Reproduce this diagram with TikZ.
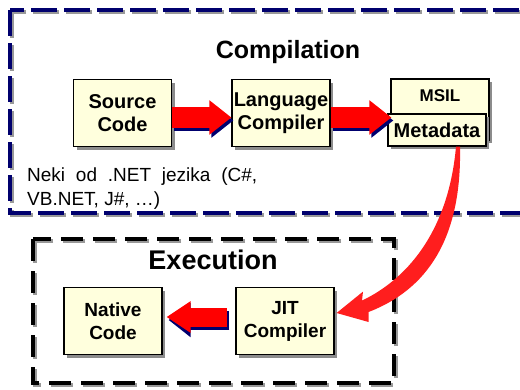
\documentclass[tikz,border=0pt]{standalone}
\usepackage{fontspec}
\setmainfont{Liberation Sans}
\usetikzlibrary{arrows.meta,shadows,calc,positioning}
\definecolor{netnavy}{RGB}{0,0,110}
\definecolor{boxyellow}{RGB}{255,255,221}
\definecolor{jitred}{RGB}{255,30,30}
\tikzset{
  stagebox/.style={draw=black, line width=1.2pt, fill=boxyellow,
    minimum width=98pt, minimum height=67pt, inner sep=0pt, align=center,
    font=\fontsize{20}{23}\selectfont\bfseries,
    drop shadow={shadow xshift=3pt, shadow yshift=-3pt, fill=black!45, opacity=1}},
  titletext/.style={inner sep=0pt, font=\fontsize{#1}{#1}\selectfont\bfseries},
  fatarrow/.style={draw=red, line width=#1, -{Triangle[length=22pt,width=33pt]}},
  fatshadow/.style={fatarrow=#1, draw=netnavy, transform canvas={shift={(2pt,-3pt)}}},
  dashframe/.style={line width=4pt, dash pattern=on 26pt off 7pt},
}
\begin{document}
\begin{tikzpicture}[x=1pt, y=-1pt]
  \useasboundingbox (0, 0) rectangle (520, 389) ;
  \clip (0, 0) rectangle (520, 389) ;
  % frames
  \draw[dashframe, black!40] (12, 12) rectangle (542, 215) ;
  \draw[dashframe, netnavy] (10, 10) rectangle (540, 213) ;
  \draw[dashframe, black!40, dash pattern=on 22pt off 10pt] (35, 241) rectangle (396, 385) ;
  \draw[dashframe, black, dash pattern=on 22pt off 10pt] (33, 239) rectangle (394, 383) ;
  % titles
  \node[titletext=25] (comptitle) at (288, 52) {Compilation} ;
  \node[titletext=27] (exectitle) at (213, 260) {Execution} ;
  % compilation stage
  \node[stagebox] (src) at (122.5, 113) {Source\\Code} ;
  \node[stagebox] (lang) at (281, 113) {Language\\Compiler} ;
  \node[stagebox, minimum height=61pt, text depth=28pt,
        font=\fontsize{17}{20}\selectfont\bfseries] (msil) at (440, 109.5) {MSIL} ;
  \node[stagebox, minimum height=32pt] (meta) at (437, 130) {Metadata} ;
  \node[anchor=base west, inner sep=0pt, align=left,
        font=\fontsize{19}{23.5}\selectfont] (netlangs) at (27, 205)
        {\makebox[230pt][s]{Neki od .NET jezika (C\#,}\\VB.NET, J\#, …)} ;
  % execution stage
  \node[stagebox, font=\fontsize{19}{23}\selectfont\bfseries] (native) at (113, 321) {Native\\Code} ;
  \node[stagebox, font=\fontsize{19}{23}\selectfont\bfseries] (jit) at (285, 321) {JIT\\Compiler} ;
  % fat arrows
  \coordinate (msilin) at ($(lang.east -| meta.west)+(4, 4.5)$) ;
  \draw[fatshadow=21pt] ([yshift=-4.5pt]src.east) -- ([yshift=-4.5pt]lang.west) ;
  \draw[fatarrow=21pt] ([yshift=-4.5pt]src.east) -- ([yshift=-4.5pt]lang.west) ;
  \draw[fatshadow=21pt] ([yshift=-4.5pt]lang.east) -- (msilin) ;
  \draw[fatarrow=21pt] ([yshift=-4.5pt]lang.east) -- (msilin) ;
  \draw[fatshadow=19pt, shorten <=8pt, shorten >=4pt] ([yshift=4pt]jit.west) -- ([yshift=4pt]native.east) ;
  \draw[fatarrow=19pt, shorten <=8pt, shorten >=4pt,
        -{Triangle[length=24pt,width=30pt]}] ([yshift=4pt]jit.west) -- ([yshift=4pt]native.east) ;
  % metadata to jit
  \coordinate (ms) at ([xshift=21pt]meta.south) ;
  \coordinate (tip) at ([xshift=2pt,yshift=8pt]jit.east) ;
  \fill[jitred] ($(ms)+(-2, 0)$) .. controls ($(ms)+(-9, 79)$) and ($(ms)+(-46, 130)$) .. ($(ms)+(-96, 154)$)
    -- ($(ms)+(-95, 145)$) -- (tip) -- ($(tip)+(32, 9)$) -- ($(tip)+(32, -1)$)
    .. controls ($(tip)+(89, -23)$) and ($(ms)+(4, 94)$) .. ($(ms)+(2, 0)$) -- cycle ;
\end{tikzpicture}
\end{document}
